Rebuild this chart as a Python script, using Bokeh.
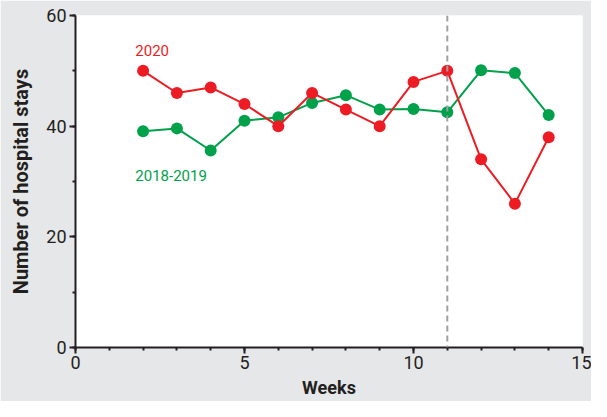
from bokeh.plotting import figure
from bokeh.models import Range1d, Label, Span, SingleIntervalTicker
from bokeh.embed import file_html
from bokeh.resources import INLINE

weeks = [2, 3, 4, 5, 6, 7, 8, 9, 10, 11, 12, 13, 14]
stays_2020 = [50, 46, 47, 44, 40, 46, 43, 40, 48, 50, 34, 26, 38]
stays_2018_2019 = [39.1, 39.6, 35.6, 41, 41.6, 44.2, 45.6, 43, 43.1, 42.5, 50.1, 49.6, 42]
x_ticks = [0, 5, 10, 15]
y_ticks = [0, 20, 40, 60]
cutoff_week = 11

RED = "#ed1c24"
GREEN = "#00a14b"
DARK = "#231f20"
BG = "#e6e7e8"
FONT = "Roboto"

p = figure(width=591, height=401, output_backend="svg", toolbar_location=None,
           x_range=Range1d(0, 15), y_range=Range1d(0, 60),
           min_border_left=75, min_border_right=9, min_border_top=15, min_border_bottom=54)
p.background_fill_color = "white"
p.border_fill_color = BG
p.outline_line_color = None
p.grid.visible = False

p.xaxis.ticker = SingleIntervalTicker(interval=5, num_minor_ticks=5)
p.yaxis.ticker = SingleIntervalTicker(interval=20, num_minor_ticks=2)

for ax in (p.xaxis[0], p.yaxis[0]):
    ax.axis_line_color = DARK
    ax.axis_line_width = 2
    ax.major_tick_line_color = DARK
    ax.major_tick_line_width = 2
    ax.minor_tick_line_color = DARK
    ax.minor_tick_line_width = 2
    ax.major_tick_out = 6
    ax.major_tick_in = 0
    ax.minor_tick_out = 3
    ax.minor_tick_in = 0
    ax.major_label_text_font = FONT
    ax.major_label_text_font_size = "18px"
    ax.major_label_text_color = DARK
    ax.axis_label_text_font = FONT
    ax.axis_label_text_font_style = "bold"
    ax.axis_label_text_color = DARK

p.xaxis.axis_label = "Weeks"
p.yaxis.axis_label = "Number of hospital stays"
p.xaxis.axis_label_text_font_size = "18px"
p.yaxis.axis_label_text_font_size = "20px"
p.xaxis.major_label_standoff = 2
p.xaxis.axis_label_standoff = 5
p.yaxis.major_label_standoff = 3
p.yaxis.axis_label_standoff = 10

p.add_layout(Span(location=cutoff_week, dimension="height", line_color="#a0a0a0",
                  line_width=2, line_dash="6 4"))

p.line(weeks, stays_2018_2019, line_color=GREEN, line_width=2)
p.scatter(weeks, stays_2018_2019, size=12, fill_color=GREEN, line_color=None)
p.line(weeks, stays_2020, line_color=RED, line_width=2)
p.scatter(weeks, stays_2020, size=12, fill_color=RED, line_color=None)

p.add_layout(Label(x=1.77, y=53.7, text="2020", text_color=RED, text_font=FONT,
                   text_font_size="15px", text_baseline="middle"))
p.add_layout(Label(x=1.77, y=31.0, text="2018-2019", text_color=GREEN, text_font=FONT,
                   text_font_size="15px", text_baseline="middle"))

open("out.html", "w").write(file_html(p, INLINE))
